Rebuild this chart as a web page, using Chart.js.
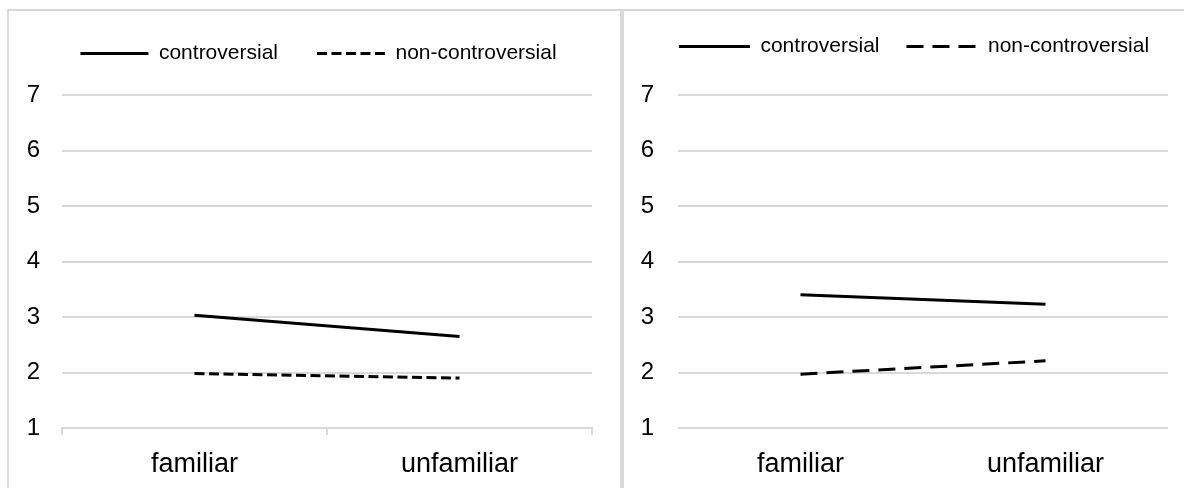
<!DOCTYPE html>
<html><head><meta charset="utf-8">
<script src="https://cdn.jsdelivr.net/npm/chart.js@4.4.1/dist/chart.umd.min.js"></script>
<style>
html,body{margin:0;padding:0;background:#fff;overflow:hidden;width:1184px;height:488px;}
#wrap{position:relative;width:1184px;height:488px;overflow:hidden;background:#fff;}
.panel{position:absolute;top:9px;height:540px;box-sizing:border-box;border:2px solid #d9d9d9;}
#p1{left:7px;width:615px;}
#p2{left:622px;width:640px;}
.cw{position:absolute;top:0;height:488px;}
#cw1{left:9px;width:619px;}
#cw2{left:624px;width:580px;}
</style></head>
<body><div id="wrap">
<div class="panel" id="p1"></div><div class="panel" id="p2"></div>
<div class="cw" id="cw1"><canvas id="c1"></canvas></div>
<div class="cw" id="cw2"><canvas id="c2"></canvas></div>
</div>
<script>
const categories = ['familiar', 'unfamiliar'];
const seriesNames = ['controversial', 'non-controversial'];
const yTicks = [1, 2, 3, 4, 5, 6, 7];
const leftControversial = [3.03, 2.65];
const leftNonControversial = [1.98, 1.90];
const rightControversial = [3.40, 3.23];
const rightNonControversial = [1.97, 2.21];

const FONT = "'Liberation Sans', Arial, sans-serif";
const GRID = '#d9d9d9';
const INK = '#000';

function makeChart(id, opt) {
  return new Chart(document.getElementById(id), {
    type: 'line',
    data: {
      labels: categories,
      datasets: [
        { label: seriesNames[0], data: opt.a, borderColor: INK, backgroundColor: INK,
          borderWidth: 3, pointRadius: 0, tension: 0, borderCapStyle: 'butt' },
        { label: seriesNames[1], data: opt.b, borderColor: INK, backgroundColor: INK,
          borderWidth: 3, pointRadius: 0, tension: 0, borderCapStyle: 'butt', borderDash: opt.dash }
      ]
    },
    options: {
      responsive: true, maintainAspectRatio: false, animation: false,
      layout: { padding: { top: opt.padTop, right: 0, left: 0, bottom: 0 } },
      plugins: {
        tooltip: { enabled: false },
        legend: {
          position: 'top',
          labels: {
            usePointStyle: true, pointStyle: 'line', pointStyleWidth: opt.legLine,
            padding: opt.legPad, color: INK, font: { family: FONT, size: 21 },
            generateLabels: chart => chart.data.datasets.map((ds, i) => ({
              text: ds.label, fillStyle: INK, strokeStyle: INK, fontColor: INK,
              lineWidth: 3, lineDash: ds.borderDash || [], lineCap: 'butt',
              pointStyle: 'line', hidden: false, datasetIndex: i
            }))
          }
        },
        subtitle: { display: true, text: '', weight: 500, padding: 0,
          font: { size: opt.spacer, lineHeight: 1 } }
      },
      scales: {
        x: {
          offset: true,
          grid: opt.xTicks ? { display: true, offset: true, drawOnChartArea: false, drawTicks: true, tickLength: 7, color: GRID, lineWidth: 2 }
                           : { display: false, drawTicks: false, tickLength: 0 },
          border: { display: opt.xTicks, color: GRID, width: 2 },
          ticks: { color: INK, font: { family: FONT, size: 27 }, padding: opt.xPad, maxRotation: 0 },
          afterFit: s => { s.height = 60; }
        },
        y: {
          min: yTicks[0], max: yTicks[yTicks.length - 1],
          grid: { color: GRID, lineWidth: 2, drawTicks: false },
          border: { display: false },
          ticks: { stepSize: 1, color: INK, font: { family: FONT, size: 24 }, padding: opt.yPad },
          afterFit: s => { s.width = opt.yWidth; }
        },
        yRight: {
          type: 'linear', position: 'right', display: true,
          grid: { display: false }, border: { display: false }, ticks: { display: false },
          afterFit: s => { s.width = opt.rightGap; }
        }
      }
    }
  });
}

makeChart('c1', { a: leftControversial, b: leftNonControversial, dash: [10, 4.5],
  padTop: 4, yWidth: 53, rightGap: 36, legLine: 68, legPad: 39, spacer: 21,
  xTicks: true, xPad: 13, yPad: 22 });
makeChart('c2', { a: rightControversial, b: rightNonControversial, dash: [17, 9],
  padTop: 9, yWidth: 54, rightGap: 36, legLine: 71, legPad: 27, spacer: 28,
  xTicks: false, xPad: 20, yPad: 24 });
</script>
</body></html>
